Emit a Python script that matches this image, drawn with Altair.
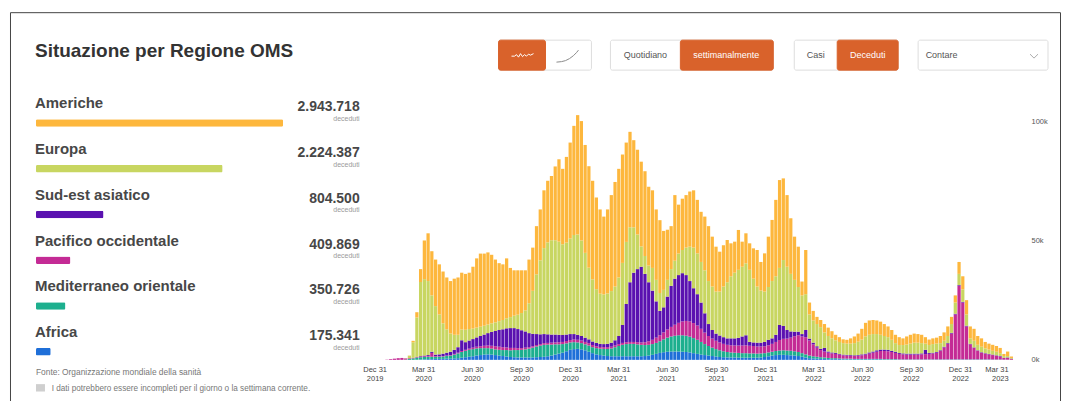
import altair as alt
import pandas as pd

FONT = "Liberation Sans"
FIRST_WEEK = "2020-01-06"

REGIONS = ["Americhe", "Europa", "Sud-est asiatico", "Pacifico occidentale",
           "Mediterraneo orientale", "Africa"]
TOTALS = [2943718, 2224387, 804500, 409869, 350726, 175341]
COLORS = ["#FDB73D", "#C8D661", "#5A11B0", "#C42B95", "#1DAF8E", "#1F6FD8"]

# weekly deaths (thousands), one value per week starting FIRST_WEEK
AFRICA = [
    0, 0, 0, 0, 0, 0, 0, 0, 0, 0.02,
    0.05, 0.1, 0.2, 0.3, 0.3, 0.4, 0.4, 0.4, 0.5, 0.5,
    0.6, 0.7, 0.9, 1.1, 1.3, 1.5, 1.8, 2.0, 2.2, 2.3,
    2.2, 2.0, 1.8, 1.6, 1.4, 1.2, 1.1, 1.0, 1.0, 1.0,
    1.0, 1.0, 1.1, 1.2, 1.3, 1.5, 1.8, 2.2, 2.6, 3.0,
    3.6, 4.2, 4.5, 4.6, 4.4, 4.0, 3.4, 2.8, 2.3, 2.0,
    1.8, 1.6, 1.5, 1.5, 1.5, 1.5, 1.5, 1.5, 1.5, 1.5,
    1.5, 1.6, 1.8, 2.1, 2.5, 2.9, 3.2, 3.4, 3.5, 3.5,
    3.5, 3.4, 3.3, 3.1, 2.8, 2.5, 2.2, 2.0, 1.8, 1.6,
    1.4, 1.2, 1.1, 1.0, 1.0, 1.0, 0.9, 0.9, 0.9, 0.9,
    0.9, 0.9, 1.0, 1.2, 1.5, 1.8, 2.0, 2.1, 2.1, 2.0,
    1.9, 1.8, 1.6, 1.3, 1.0, 0.7, 0.6, 0.5, 0.4, 0.4,
    0.3, 0.3, 0.3, 0.3, 0.2, 0.2, 0.2, 0.2, 0.2, 0.2,
    0.2, 0.2, 0.2, 0.2, 0.2, 0.1, 0.1, 0.1, 0.1, 0.1,
    0.1, 0.1, 0.1, 0.1, 0.1, 0.1, 0.1, 0.1, 0.1, 0.1,
    0.1, 0.1, 0.1, 0.1, 0.1, 0.1, 0.1, 0.1, 0.1, 0.1,
    0.1, 0.1, 0.1, 0.1, 0.05, 0.05, 0.05, 0.03, 0.03, 0.02,
]
MEDITERRANEO = [
    0, 0, 0, 0, 0, 0, 0, 0.1, 0.4, 0.6,
    0.9, 1.0, 1.0, 1.0, 1.0, 0.9, 0.9, 1.0, 1.1, 1.3,
    1.6, 2.0, 2.4, 2.7, 2.9, 3.0, 3.0, 2.9, 2.7, 2.6,
    2.5, 2.4, 2.4, 2.5, 2.7, 2.8, 3.0, 3.1, 3.2, 3.4,
    3.7, 4.1, 4.5, 4.8, 5.0, 4.9, 4.6, 4.3, 3.9, 3.6,
    3.3, 3.1, 2.9, 2.7, 2.6, 2.5, 2.6, 2.5, 2.6, 2.7,
    2.8, 3.0, 3.3, 3.8, 4.3, 4.8, 5.1, 5.2, 5.2, 5.0,
    4.8, 4.6, 4.5, 4.5, 4.6, 4.9, 5.4, 5.9, 6.3, 6.6,
    6.8, 6.9, 6.8, 6.6, 6.3, 5.9, 5.3, 4.6, 4.0, 3.5,
    3.1, 2.8, 2.5, 2.3, 2.1, 2.0, 2.0, 1.9, 1.9, 1.8,
    1.8, 1.7, 1.7, 1.6, 1.6, 1.6, 1.7, 1.8, 1.9, 1.9,
    1.9, 1.8, 1.7, 1.5, 1.3, 1.1, 0.9, 0.8, 0.7, 0.6,
    0.5, 0.4, 0.4, 0.3, 0.3, 0.3, 0.3, 0.2, 0.2, 0.2,
    0.2, 0.2, 0.2, 0.2, 0.2, 0.2, 0.2, 0.2, 0.2, 0.1,
    0.1, 0.1, 0.1, 0.1, 0.1, 0.1, 0.1, 0.1, 0.1, 0.1,
    0.1, 0.1, 0.1, 0.1, 0.1, 0.1, 0.1, 0.1, 0.1, 0.1,
    0.1, 0.1, 0.1, 0.1, 0.1, 0.1, 0.1, 0.05, 0.05, 0.03,
]
PACIFICO = [
    0, 0, 0.1, 0.3, 0.5, 0.7, 0.8, 0.5, 0.3, 0.2,
    0.2, 0.3, 0.3, 0.3, 1.6, 0.3, 0.2, 0.2, 0.2, 0.2,
    0.3, 0.3, 0.4, 0.4, 0.5, 0.6, 0.7, 0.8, 1.0, 1.1,
    1.2, 1.3, 1.3, 1.2, 1.1, 1.0, 0.9, 0.8, 0.7, 0.7,
    0.6, 0.6, 0.6, 0.6, 0.7, 0.7, 0.8, 0.8, 0.9, 0.9,
    1.0, 1.0, 1.1, 1.1, 1.1, 1.0, 1.0, 0.9, 0.8, 0.7,
    0.7, 0.7, 0.7, 0.7, 0.8, 0.8, 0.8, 0.8, 0.8, 0.9,
    1.0, 1.2, 1.5, 1.8, 2.2, 2.5, 2.9, 3.4, 4.0, 4.6,
    5.2, 5.8, 6.2, 6.4, 6.3, 6.0, 5.5, 4.8, 4.2, 3.8,
    3.5, 3.3, 3.1, 3.0, 3.0, 3.0, 3.1, 3.2, 3.3, 3.2,
    3.1, 3.0, 2.9, 2.9, 3.0, 3.3, 3.8, 4.4, 4.8, 5.0,
    5.5, 6.3, 7.0, 7.0, 7.2, 6.3, 5.0, 3.8, 3.0, 2.5,
    2.2, 2.0, 1.8, 1.6, 1.4, 1.3, 1.2, 1.2, 1.3, 1.5,
    1.8, 2.2, 2.6, 3.0, 3.3, 3.4, 3.3, 3.0, 2.6, 2.3,
    2.1, 2.0, 2.0, 2.0, 2.0, 2.1, 2.2, 2.3, 2.5, 2.8,
    3.5, 5.0, 6.5, 10.8, 18.8, 30.8, 23.8, 13.8, 6.3, 4.8,
    3.6, 2.8, 2.4, 2.1, 1.85, 1.55, 1.25, 0.7, 0.7, 0.35,
]
SUDEST = [
    0, 0, 0, 0, 0, 0, 0, 0, 0, 0.05,
    0.1, 0.2, 0.3, 0.4, 0.5, 0.6, 0.8, 1.0, 1.2, 1.4,
    1.7, 2.3, 4.5, 3.2, 3.4, 3.6, 3.9, 4.3, 4.7, 5.2,
    5.8, 6.4, 7.0, 7.5, 8.0, 8.3, 8.3, 8.0, 7.5, 6.8,
    5.9, 5.2, 4.6, 4.1, 3.8, 3.6, 3.4, 3.3, 3.1, 2.9,
    2.7, 2.5, 2.3, 2.1, 1.9, 1.8, 1.6, 1.5, 1.4, 1.3,
    1.3, 1.4, 1.7, 2.2, 3.4, 7.5, 16.0, 25.0, 29.0, 30.6,
    31.7, 28.6, 24.7, 20.6, 15.2, 10.2, 10.5, 13.8, 17.2, 19.3,
    20.0, 20.2, 19.2, 16.9, 14.6, 13.1, 11.0, 8.1, 5.0, 3.6,
    3.0, 2.9, 2.8, 2.7, 2.9, 3.0, 3.2, 3.8, 4.2, 1.6,
    1.5, 1.6, 1.6, 1.8, 2.3, 2.3, 3.0, 6.3, 5.4, 3.6,
    2.6, 1.9, 1.5, 1.0, 3.0, 0.8, 0.7, 0.6, 0.5, 1.5,
    0.5, 0.4, 0.4, 0.3, 0.3, 0.3, 0.3, 0.3, 0.3, 0.4,
    0.4, 0.5, 0.5, 0.6, 0.6, 0.6, 0.6, 0.5, 0.5, 0.4,
    0.4, 0.4, 0.4, 0.4, 0.4, 0.4, 1.8, 0.4, 0.3, 0.3,
    0.3, 0.3, 0.3, 0.3, 0.3, 0.3, 0.3, 0.3, 0.2, 0.2,
    0.2, 0.2, 0.2, 0.2, 0.2, 0.2, 0.2, 0.1, 0.2, 0.1,
]
EUROPA = [
    0, 0, 0, 0, 0, 0, 0, 0.1, 1.0, 6.5,
    16.5, 31.0, 32.0, 31.0, 23.6, 20.3, 16.7, 12.7, 9.8, 7.6,
    6.3, 5.2, 4.5, 5.2, 4.8, 4.4, 4.1, 3.9, 3.7, 3.6,
    3.6, 3.6, 3.7, 3.9, 4.2, 4.6, 5.2, 6.0, 7.2, 8.8,
    12.5, 18.0, 25.0, 31.0, 36.0, 38.5, 39.5, 39.5, 39.0, 38.0,
    38.5, 40.0, 41.5, 42.0, 40.0, 35.5, 30.0, 26.0, 22.5, 21.0,
    20.8, 21.1, 21.6, 22.5, 24.5, 26.0, 26.0, 23.0, 19.0, 14.5,
    8.5, 7.5, 7.0, 9.5, 9.0, 7.5, 7.3, 7.0, 7.0, 7.5,
    9.0, 9.7, 11.5, 14.4, 17.0, 17.1, 17.0, 18.0, 18.0, 18.2,
    17.6, 18.4, 21.2, 23.5, 26.0, 27.5, 28.5, 29.2, 30.1, 30.2,
    26.7, 23.5, 21.8, 21.1, 22.1, 24.0, 24.5, 23.9, 27.6, 26.5,
    24.1, 21.7, 18.7, 16.2, 15.0, 10.1, 9.3, 9.3, 9.1, 6.5,
    6.5, 5.9, 5.3, 5.0, 4.8, 4.7, 4.8, 5.1, 5.6, 6.2,
    7.2, 7.4, 7.3, 6.8, 6.2, 5.7, 5.3, 4.6, 3.6, 3.3,
    3.5, 3.8, 4.2, 4.6, 4.6, 4.3, 2.6, 3.3, 3.6, 3.5,
    3.0, 2.5, 3.0, 3.7, 4.7, 4.7, 5.2, 4.7, 2.3, 2.8,
    2.3, 2.3, 2.0, 1.8, 1.6, 1.5, 1.2, 0.7, 0.6, 0.3,
]
AMERICHE = [
    0, 0, 0, 0, 0, 0, 0, 0, 0.1, 0.6,
    2.2, 5.4, 16.2, 20.0, 18.5, 19.5, 21.0, 21.7, 21.7, 22.0,
    23.5, 24.0, 23.8, 23.4, 23.6, 25.9, 29.0, 30.6, 30.2, 30.2,
    28.7, 26.3, 24.3, 23.3, 25.1, 20.6, 19.0, 18.6, 17.9, 16.8,
    18.3, 18.1, 20.2, 21.3, 24.2, 25.8, 26.9, 30.9, 34.5, 31.6,
    35.9, 40.2, 45.7, 50.0, 50.0, 45.2, 42.5, 41.3, 38.4, 35.3,
    32.6, 35.2, 40.2, 43.8, 45.5, 45.4, 41.6, 40.0, 36.5, 35.5,
    35.5, 35.5, 33.0, 32.5, 29.5, 30.5, 24.7, 21.0, 18.0, 27.5,
    20.5, 21.5, 22.0, 23.1, 24.0, 22.4, 21.0, 22.5, 23.0, 20.9,
    18.8, 16.7, 17.3, 17.7, 13.8, 13.0, 16.7, 10.5, 12.6, 11.1,
    12.7, 15.3, 12.0, 16.0, 21.1, 25.6, 32.0, 36.8, 34.2, 30.0,
    23.3, 18.1, 16.9, 5.8, 18.5, 5.0, 4.0, 3.0, 3.0, 3.5,
    3.5, 3.0, 2.3, 2.0, 1.6, 1.6, 2.2, 2.8, 3.4, 4.5,
    5.7, 6.0, 5.9, 5.7, 5.5, 5.0, 4.5, 4.1, 3.5, 3.3,
    2.8, 3.4, 3.7, 3.8, 3.6, 3.5, 2.7, 2.3, 2.4, 2.5,
    3.0, 3.5, 4.0, 3.0, 3.0, 5.0, 5.5, 6.0, 5.0, 5.0,
    3.7, 3.5, 2.7, 2.5, 2.5, 2.4, 2.2, 0.9, 1.9, 0.6,
]

X_TICKS = ["2019-12-31", "2020-03-31", "2020-06-30", "2020-09-30", "2020-12-31",
           "2021-03-31", "2021-06-30", "2021-09-30", "2021-12-31", "2022-03-31",
           "2022-06-30", "2022-09-30", "2022-12-31", "2023-03-31"]
Y_TICKS = [0, 50000, 100000]

TITLE = "Situazione per Regione OMS"
SOURCE = "Fonte: Organizzazione mondiale della sanità"
NOTE = "I dati potrebbero essere incompleti per il giorno o la settimana corrente."
ORANGE = "#D9622B"

# ---------------------------------------------------------------- tables
SERIES = {"Africa": AFRICA, "Mediterraneo orientale": MEDITERRANEO,
          "Pacifico occidentale": PACIFICO, "Sud-est asiatico": SUDEST,
          "Europa": EUROPA, "Americhe": AMERICHE}
n = len(AMERICHE)
for k, v in SERIES.items():
    assert len(v) == n, (k, len(v))

starts = pd.date_range(FIRST_WEEK, periods=n, freq="7D")
rows = []
for w, s in enumerate(starts):
    base = 0.0
    for region in ["Africa", "Mediterraneo orientale", "Pacifico occidentale",
                   "Sud-est asiatico", "Europa", "Americhe"]:
        v = SERIES[region][w] * 1000
        e = s + pd.Timedelta(days=6, hours=2)
        rows.append({"start": s.strftime("%Y-%m-%dT%H:%M:%SZ"),
                     "end": e.strftime("%Y-%m-%dT%H:%M:%SZ"),
                     "region": region, "value": v, "y0": base, "y1": base + v})
        base += v
weekly = pd.DataFrame(rows)


def dt(s):
    y, m, d = (int(p) for p in s.split("-"))
    return alt.DateTime(year=y, month=m, date=d, utc=True)


# x scale: Dec 31 2019 -> 367px, same px/day slope continued to Apr 30 2023
X0, X1 = "2019-12-31", "2023-04-30"
px_per_day = 586 / 1096
x_span = (pd.Timestamp(X1) - pd.Timestamp(X0)).days * px_per_day

legend = pd.DataFrame({
    "region": REGIONS,
    "total": TOTALS,
    "label": [f"{t:,}".replace(",", ".") for t in TOTALS],
    "color": COLORS,
})

# ---------------------------------------------------------------- main bars
bars = alt.Chart(weekly).mark_bar().encode(
    x=alt.X("start:T",
            scale=alt.Scale(type="utc", domain=[dt(X0), dt(X1)],
                            range=[367, 367 + x_span]),
            axis=alt.Axis(values=[dt(d) for d in X_TICKS],
                          labelExpr="[utcFormat(datum.value, '%b %d'), utcFormat(datum.value, '%Y')]",
                          labelAlign=alt.condition("datum.value > 1672531200000",
                                                   alt.value("right"), alt.value("center")),
                          domain=False, ticks=False, grid=False, title=None,
                          labelFont=FONT, labelFontSize=7.5, labelColor="#444",
                          labelPadding=6, labelLineHeight=9, labelFlush=False,
                          labelOverlap=False, labelBound=False)),
    x2="end:T",
    y=alt.Y("y0:Q",
            scale=alt.Scale(domain=[0, 100000], range=[352, 113], nice=False, zero=False),
            axis=alt.Axis(orient="right", values=Y_TICKS, format="~s",
                          domain=False, ticks=False, grid=False, title=None,
                          labelFont=FONT, labelFontSize=7.5, labelColor="#555",
                          labelPadding=4, labelFlush=False)),
    y2="y1:Q",
    color=alt.Color("region:N", scale=alt.Scale(domain=REGIONS, range=COLORS), legend=None),
)

# ---------------------------------------------------------------- legend list
row_y = alt.Y("region:N", scale=alt.Scale(type="point", domain=REGIONS,
                                          range=[100.3, 329.3], padding=0), axis=None)
leg_bars = alt.Chart(legend).mark_bar(height=7.7, yOffset=14.6, cornerRadius=1.5).encode(
    x=alt.X("total:Q", scale=alt.Scale(domain=[0, TOTALS[0]], range=[28, 275.3]), axis=None),
    y=row_y,
    color=alt.Color("color:N", scale=None),
)
leg_names = alt.Chart(legend).mark_text(
    align="left", baseline="alphabetic", font=FONT, fontSize=15, fontWeight="bold",
    color="#474747").encode(x=alt.value(27), y=row_y, text="region:N")
leg_vals = alt.Chart(legend).mark_text(
    align="right", baseline="alphabetic", font=FONT, fontSize=14, fontWeight="bold",
    color="#474747", dy=3).encode(x=alt.value(352), y=row_y, text="label:N")
leg_unit = alt.Chart(legend).mark_text(
    align="right", baseline="alphabetic", font=FONT, fontSize=7, color="#9a9a9a",
    dy=12.4, text="deceduti").encode(x=alt.value(352), y=row_y)

one = pd.DataFrame({"t": [TITLE]})
title = alt.Chart(one).mark_text(
    align="left", baseline="alphabetic", font=FONT, fontSize=19, fontWeight="bold",
    color="#333333").encode(x=alt.value(27), y=alt.value(48.7), text="t:N")

src = alt.Chart(pd.DataFrame({"t": [SOURCE]})).mark_text(
    align="left", baseline="alphabetic", font=FONT, fontSize=8.4, color="#777").encode(
    x=alt.value(28), y=alt.value(367), text="t:N")
note = alt.Chart(pd.DataFrame({"t": [NOTE]})).mark_text(
    align="left", baseline="alphabetic", font=FONT, fontSize=8.2, color="#777").encode(
    x=alt.value(43.7), y=alt.value(383), text="t:N")
note_box = alt.Chart(one).mark_rect(color="#cfcfcf").encode(
    x=alt.value(28), x2=alt.value(37), y=alt.value(376.3), y2=alt.value(383.7))

# ---------------------------------------------------------------- UI chrome
ui = pd.DataFrame([
    # x, x2, y, y2, fill, stroke
    [491, 584, 32, 62, "#ffffff", "#dddddd"],
    [603, 766, 32, 62, "#ffffff", "#dddddd"],
    [787, 891, 32, 62, "#ffffff", "#dddddd"],
    [911, 1041, 32, 62, "#ffffff", "#dddddd"],
    [491, 538, 32, 62, ORANGE, ORANGE],
    [673, 766, 32, 62, ORANGE, ORANGE],
    [830, 891, 32, 62, ORANGE, ORANGE],
], columns=["x", "x2", "y", "y2", "fill", "stroke"])
ui_rects = alt.Chart(ui).mark_rect(cornerRadius=2, strokeWidth=1).encode(
    x=alt.X("x:Q", scale=None, axis=None), x2="x2:Q",
    y=alt.Y("y:Q", scale=None, axis=None), y2="y2:Q",
    fill=alt.Fill("fill:N", scale=None), stroke=alt.Stroke("stroke:N", scale=None))

ui_text = pd.DataFrame([
    [638, 47, "Quotidiano", "#555555"],
    [719, 47, "settimanalmente", "#ffffff"],
    [808.5, 47, "Casi", "#555555"],
    [860.5, 47, "Deceduti", "#ffffff"],
], columns=["x", "y", "t", "c"])
ui_labels = alt.Chart(ui_text).mark_text(
    align="center", baseline="middle", font=FONT, fontSize=9).encode(
    x=alt.X("x:Q", scale=None, axis=None), y=alt.Y("y:Q", scale=None, axis=None),
    text="t:N", color=alt.Color("c:N", scale=None))
ui_drop = alt.Chart(pd.DataFrame({"t": ["Contare"]})).mark_text(
    align="left", baseline="middle", font=FONT, fontSize=9, color="#555").encode(
    x=alt.value(918.5), y=alt.value(47), text="t:N")

icons = pd.DataFrame([
    ["w", 0, 504, 48], ["w", 1, 507, 48], ["w", 2, 509, 46.5], ["w", 3, 511, 49],
    ["w", 4, 513, 45.5], ["w", 5, 515, 48.5], ["w", 6, 517, 46.5], ["w", 7, 519, 48],
    ["w", 8, 521, 46], ["w", 9, 523, 47], ["w", 10, 526, 45.5],
    ["c", 0, 549, 54], ["c", 1, 554, 53.5], ["c", 2, 558, 52.5], ["c", 3, 562, 50.5],
    ["c", 4, 566, 47.5], ["c", 5, 569, 44.5], ["c", 6, 571, 42],
    ["v", 0, 1023, 46], ["v", 1, 1027, 50], ["v", 2, 1031, 46],
], columns=["icon", "k", "x", "y"])
icon_col = {"w": "#ffffff", "c": "#8a8a8a", "v": "#aaaaaa"}
icons["c"] = icons["icon"].map(icon_col)
ui_icons = alt.Chart(icons).mark_line(strokeWidth=1).encode(
    x=alt.X("x:Q", scale=None, axis=None), y=alt.Y("y:Q", scale=None, axis=None),
    detail="icon:N", order="k:Q", color=alt.Color("c:N", scale=None))

frame = alt.Chart(one).mark_rect(fill=None, stroke="#444", strokeWidth=1).encode(
    x=alt.value(2.5), x2=alt.value(1053.5), y=alt.value(4.5), y2=alt.value(420))

chart = alt.layer(
    frame, bars, leg_bars, leg_names, leg_vals, leg_unit, title, src, note_box, note,
    ui_rects, ui_labels, ui_drop, ui_icons,
).resolve_scale(
    x="independent", y="independent", color="independent"
).properties(
    width=1020, height=352,
    padding={"left": 0, "top": 0, "right": 34, "bottom": 41},
    autosize=alt.AutoSizeParams(type="none"),
).configure_view(stroke=None)

chart.save("out.html", embed_options={"renderer": "svg", "actions": False})
